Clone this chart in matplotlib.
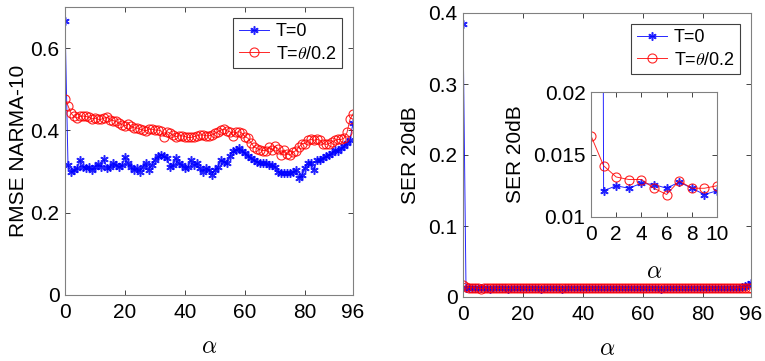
import numpy as np
import matplotlib
matplotlib.use("Agg")
import matplotlib.pyplot as plt

plt.rcParams['font.family'] = ['Liberation Sans', 'DejaVu Sans']
plt.rcParams['mathtext.fontset'] = 'cm'

alpha_vals = np.arange(0, 97)

rmse_t0 = [0.665, 0.315, 0.300, 0.305, 0.308, 0.328, 0.312, 0.309, 0.312, 0.304,
           0.312, 0.319, 0.312, 0.330, 0.309, 0.312, 0.320, 0.316, 0.312, 0.316,
           0.335, 0.320, 0.312, 0.304, 0.308, 0.300, 0.312, 0.320, 0.304, 0.316,
           0.328, 0.337, 0.340, 0.337, 0.333, 0.312, 0.316, 0.333, 0.320, 0.316,
           0.308, 0.312, 0.328, 0.316, 0.320, 0.308, 0.300, 0.308, 0.304, 0.292,
           0.304, 0.312, 0.328, 0.324, 0.320, 0.337, 0.349, 0.353, 0.357, 0.349,
           0.345, 0.337, 0.333, 0.328, 0.324, 0.320, 0.320, 0.320, 0.316, 0.316,
           0.312, 0.300, 0.296, 0.296, 0.296, 0.296, 0.298, 0.304, 0.284, 0.292,
           0.308, 0.320, 0.322, 0.304, 0.328, 0.328, 0.333, 0.337, 0.341, 0.345,
           0.353, 0.349, 0.357, 0.361, 0.369, 0.377, 0.419]

rmse_t02 = [0.476, 0.460, 0.442, 0.434, 0.430, 0.434, 0.435, 0.434, 0.432, 0.428,
            0.430, 0.427, 0.427, 0.430, 0.432, 0.426, 0.424, 0.422, 0.418, 0.414,
            0.411, 0.416, 0.410, 0.406, 0.406, 0.403, 0.401, 0.399, 0.403, 0.403,
            0.401, 0.401, 0.399, 0.385, 0.397, 0.393, 0.389, 0.385, 0.387, 0.387,
            0.385, 0.383, 0.383, 0.385, 0.387, 0.389, 0.389, 0.387, 0.387, 0.389,
            0.393, 0.397, 0.401, 0.403, 0.399, 0.397, 0.387, 0.395, 0.397, 0.393,
            0.385, 0.381, 0.370, 0.360, 0.356, 0.353, 0.351, 0.351, 0.360, 0.353,
            0.361, 0.356, 0.340, 0.353, 0.343, 0.340, 0.347, 0.351, 0.360, 0.368,
            0.368, 0.376, 0.378, 0.376, 0.378, 0.376, 0.368, 0.366, 0.368, 0.372,
            0.376, 0.378, 0.378, 0.381, 0.395, 0.427, 0.440]

ser_t0 = [0.385, 0.0121, 0.0125, 0.0123, 0.0127, 0.0126, 0.0123, 0.0128, 0.0123, 0.0118,
          0.0121, 0.0122, 0.0120, 0.0123, 0.0121, 0.0119, 0.0122, 0.0124, 0.0120, 0.0121,
          0.0123, 0.0120, 0.0122, 0.0121, 0.0124, 0.0120, 0.0119, 0.0122, 0.0121, 0.0123,
          0.0120, 0.0122, 0.0121, 0.0119, 0.0122, 0.0124, 0.0121, 0.0120, 0.0122, 0.0123,
          0.0121, 0.0120, 0.0122, 0.0121, 0.0123, 0.0122, 0.0120, 0.0121, 0.0124, 0.0122,
          0.0120, 0.0121, 0.0123, 0.0122, 0.0120, 0.0121, 0.0122, 0.0124, 0.0121, 0.0120,
          0.0122, 0.0121, 0.0123, 0.0120, 0.0122, 0.0121, 0.0119, 0.0122, 0.0123, 0.0121,
          0.0120, 0.0122, 0.0121, 0.0123, 0.0122, 0.0120, 0.0121, 0.0122, 0.0124, 0.0121,
          0.0122, 0.0121, 0.0123, 0.0122, 0.0121, 0.0123, 0.0124, 0.0123, 0.0125, 0.0126,
          0.0128, 0.0130, 0.0133, 0.0138, 0.0150, 0.0165, 0.0200]

ser_t02 = [0.0165, 0.0141, 0.0132, 0.0130, 0.0130, 0.0123, 0.0118, 0.0129, 0.0123, 0.0123,
           0.0125, 0.0124, 0.0122, 0.0125, 0.0123, 0.0121, 0.0124, 0.0126, 0.0122, 0.0123,
           0.0125, 0.0122, 0.0124, 0.0123, 0.0126, 0.0122, 0.0121, 0.0124, 0.0123, 0.0125,
           0.0122, 0.0124, 0.0123, 0.0121, 0.0124, 0.0126, 0.0123, 0.0122, 0.0124, 0.0125,
           0.0123, 0.0122, 0.0124, 0.0123, 0.0125, 0.0124, 0.0122, 0.0123, 0.0126, 0.0124,
           0.0122, 0.0123, 0.0125, 0.0124, 0.0122, 0.0123, 0.0124, 0.0126, 0.0123, 0.0122,
           0.0124, 0.0123, 0.0125, 0.0122, 0.0124, 0.0123, 0.0121, 0.0124, 0.0125, 0.0123,
           0.0122, 0.0124, 0.0123, 0.0125, 0.0124, 0.0122, 0.0123, 0.0124, 0.0126, 0.0123,
           0.0124, 0.0123, 0.0125, 0.0124, 0.0123, 0.0125, 0.0126, 0.0125, 0.0126, 0.0127,
           0.0128, 0.0129, 0.0130, 0.0131, 0.0132, 0.0131, 0.0130]

inset_n = 11
label_t0 = 'T=0'
label_t02 = r'T=$\theta$/0.2'

BLUE = '#0000FF'
RED = '#FF0000'
FRAME = '#262626'
ASTERISK = (6, 2, 0)

fig = plt.figure(figsize=(7.65, 3.61), dpi=100)

def style_axes(ax, fs=15, pad=6):
    ax.tick_params(direction='in', top=True, right=True, labelsize=fs,
                   length=3.5, width=0.6, colors=FRAME, labelcolor='black')
    ax.tick_params(axis='x', pad=pad)
    ax.tick_params(axis='y', pad=4)
    for s in ax.spines.values():
        s.set_color('#808080')
        s.set_linewidth(0.8)

def plot_series(ax, x, y0, y1, ms_star=6, ms_circ=6.5):
    ax.plot(x, y0, color=BLUE, lw=0.7, marker=ASTERISK, ms=ms_star, mec=BLUE, mfc=BLUE,
            mew=1.1, label=label_t0, alpha=0.85)
    ax.plot(x, y1, color=RED, lw=0.7, marker='o', ms=ms_circ, mec=RED, mfc='none',
            mew=0.8, label=label_t02, alpha=0.85)

def make_legend(ax):
    leg = ax.legend(loc='upper right', fontsize=13, fancybox=False, framealpha=1,
                    edgecolor='#404040', handlelength=1.7, handletextpad=0.35,
                    borderpad=0.3, labelspacing=0.3, borderaxespad=0.6)
    leg.get_frame().set_linewidth(0.8)

# Left axes
ax1 = fig.add_axes([65/765, 1-295/361, 288/765, 288/361])
plot_series(ax1, alpha_vals, rmse_t0, rmse_t02)
ax1.set_xlim(0, 96)
ax1.set_ylim(0, 0.7)
ax1.set_xticks([0, 20, 40, 60, 80, 96])
ax1.set_yticks([0, 0.2, 0.4, 0.6])
ax1.set_yticklabels(['0', '0.2', '0.4', '0.6'])
ax1.set_ylabel('RMSE NARMA-10', fontsize=15, labelpad=2)
ax1.set_xlabel(r'$\alpha$', fontsize=17, labelpad=10)
style_axes(ax1)
make_legend(ax1)

# Right axes
ax2 = fig.add_axes([463/765, 1-297/361, 288/765, 284/361])
plot_series(ax2, alpha_vals, ser_t0, ser_t02)
ax2.set_xlim(0, 96)
ax2.set_ylim(0, 0.4)
ax2.set_xticks([0, 20, 40, 60, 80, 96])
ax2.set_yticks([0, 0.1, 0.2, 0.3, 0.4])
ax2.set_yticklabels(['0', '0.1', '0.2', '0.3', '0.4'])
ax2.set_ylabel('SER 20dB', fontsize=15, labelpad=6)
ax2.set_xlabel(r'$\alpha$', fontsize=17, labelpad=10)
style_axes(ax2)
make_legend(ax2)

# Inset
ax3 = fig.add_axes([591/765, 1-217/361, 126/765, 125/361])
plot_series(ax3, alpha_vals[:inset_n], ser_t0[:inset_n], ser_t02[:inset_n])
ax3.set_xlim(0, 10)
ax3.set_ylim(0.01, 0.02)
ax3.set_xticks([0, 2, 4, 6, 8, 10])
ax3.set_yticks([0.01, 0.015, 0.02])
ax3.set_yticklabels(['0.01', '0.015', '0.02'])
ax3.set_ylabel('SER 20dB', fontsize=15, labelpad=6)
ax3.set_xlabel(r'$\alpha$', fontsize=17, labelpad=12)
style_axes(ax3)

fig.savefig('out.png', dpi=100)
